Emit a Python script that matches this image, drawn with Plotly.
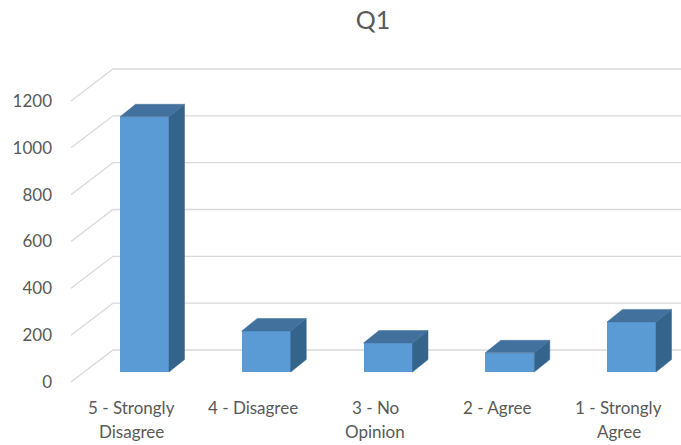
import plotly.graph_objects as go

# ---- data ----
categories_line1 = ["5 - Strongly", "4 - Disagree", "3 - No", "2 - Agree", "1 - Strongly"]
categories_line2 = ["Disagree", "", "Opinion", "", "Agree"]
values = [1090, 175, 124, 82, 214]
grid_values = [0, 200, 400, 600, 800, 1000, 1200]
grid_labels = ["0", "200", "400", "600", "800", "1000", "1200"]

# ---- geometry / styling (pixel layout helpers) ----
W, H = 681, 445
L, T, BOT = 58, 40, 392           # plot area left, top, bottom (px)
X0_PX, X_STEP = 144.5, 121.75     # bar-centre pixel of first bar, spacing
Y0_PX, Y_SCALE = 372.0, 281.0 / 1200  # bar-plane zero (px), px per unit

xr = [-(X0_PX - L) / X_STEP, -(X0_PX - L) / X_STEP + (W - L) / X_STEP]
yr = [(Y0_PX - BOT) / Y_SCALE, (Y0_PX - T) / Y_SCALE]

bar_w = 49 / X_STEP
dx = 15.5 / X_STEP
dy = 12.5 / Y_SCALE
front_dv = (Y0_PX - 382) / Y_SCALE      # front wall offset in value units
back_dv = (Y0_PX - 350) / Y_SCALE       # back wall offset
front_x = (71 - X0_PX) / X_STEP
back_x = (113 - X0_PX) / X_STEP
label_shift = -13 / X_STEP


def paper_y(px):
    return (BOT - px) / (BOT - T)


FRONT = "#5B9BD5"
TOP = "#41719C"
SIDE = "#34648C"
GRID = "#D9D9D9"
TXT = "#595959"
FS = 17

xs = list(range(len(values)))

fig = go.Figure()

# gridlines (floor/wall perspective) as shapes below the traces
shapes = []
for g in grid_values:
    path = "M {:.4f},{:.3f} L {:.4f},{:.3f} L {:.4f},{:.3f}".format(
        front_x, g + front_dv, back_x, g + back_dv, xr[1], g + back_dv)
    shapes.append(dict(type="path", path=path, xref="x", yref="y", layer="below",
                       line=dict(color=GRID, width=1.3)))

# front faces
fig.add_trace(go.Bar(x=xs, y=values, width=bar_w,
                     marker=dict(color=FRONT, line=dict(width=0)),
                     showlegend=False))

# side faces
sx, sy = [], []
for i, v in zip(xs, values):
    r = i + bar_w / 2
    sx += [r, r + dx, r + dx, r, r, None]
    sy += [0, dy, v + dy, v, 0, None]
fig.add_trace(go.Scatter(x=sx, y=sy, mode="lines", fill="toself",
                         fillcolor=SIDE, line=dict(color=SIDE, width=0.5),
                         hoverinfo="skip", showlegend=False))

# top faces
tx, ty = [], []
for i, v in zip(xs, values):
    l, r = i - bar_w / 2, i + bar_w / 2
    tx += [l, l + dx, r + dx, r, l, None]
    ty += [v, v + dy, v + dy, v, v, None]
fig.add_trace(go.Scatter(x=tx, y=ty, mode="lines", fill="toself",
                         fillcolor=TOP, line=dict(color=TOP, width=0.5),
                         hoverinfo="skip", showlegend=False))

# category labels (two lines, Excel-like spacing)
annotations = []
for i, (a, b) in enumerate(zip(categories_line1, categories_line2)):
    annotations.append(dict(x=i + label_shift, y=paper_y(407), xref="x", yref="paper",
                            text=a, showarrow=False, xanchor="center", yanchor="middle",
                            font=dict(size=FS, color=TXT, family="Lato")))
    if b:
        annotations.append(dict(x=i + label_shift, y=paper_y(431), xref="x", yref="paper",
                                text=b, showarrow=False, xanchor="center", yanchor="middle",
                                font=dict(size=FS, color=TXT, family="Lato")))

fig.update_layout(
    width=W, height=H,
    margin=dict(l=L, r=0, t=T, b=H - BOT),
    paper_bgcolor="white", plot_bgcolor="white",
    font=dict(family="Lato", color=TXT),
    title=dict(text="Q1", x=373 / W, xanchor="center", y=1 - 20 / H, yanchor="middle",
               xref="container", yref="container",
               font=dict(size=25, color=TXT, family="Lato")),
    xaxis=dict(range=xr, showgrid=False, zeroline=False, showline=False,
               showticklabels=False, fixedrange=True),
    yaxis=dict(range=yr, showgrid=False, zeroline=False, showline=False,
               tickmode="array", tickvals=[g + front_dv for g in grid_values],
               ticktext=grid_labels, ticks="", ticklabelstandoff=5,
               tickfont=dict(size=FS, color=TXT, family="Lato")),
    shapes=shapes,
    annotations=annotations,
    bargap=0,
)

fig.write_html("out.html")
